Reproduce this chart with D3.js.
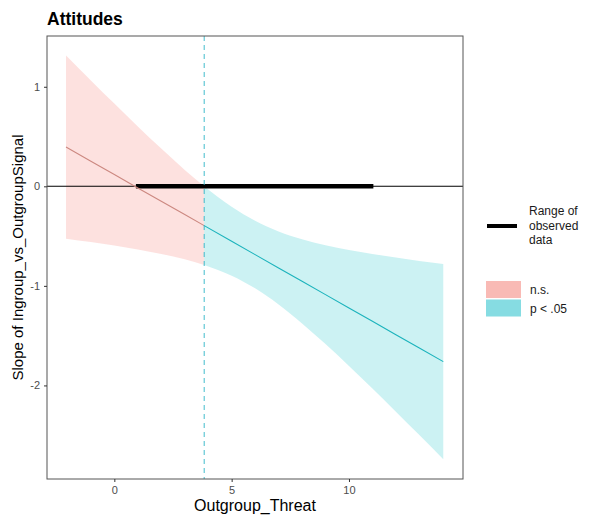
<!DOCTYPE html>
<html>
<head>
<meta charset="utf-8">
<script src="https://d3js.org/d3.v7.min.js"></script>
<style>
  html, body { margin: 0; padding: 0; background: #fff; }
  svg { display: block; font-family: "Liberation Sans", Arial, sans-serif; }
</style>
</head>
<body>
<svg id="chart" width="589" height="515"></svg>
<script>
// Johnson-Neyman plot: conditional slope of Ingroup_vs_OutgroupSignal across Outgroup_Threat
const moderator = [-2.06, -1, 0, 1, 2, 3, 3.83, 5, 6, 7, 8, 9, 10, 11, 12, 13, 14.02];
const slopeEst  = [0.394, 0.252, 0.118, -0.016, -0.150, -0.284, -0.395, -0.552, -0.686, -0.820, -0.954, -1.088, -1.222, -1.356, -1.490, -1.624, -1.761];
const ciUpper   = [1.314, 1.064, 0.831, 0.602, 0.379, 0.165, 0.0, -0.206, -0.347, -0.453, -0.531, -0.591, -0.639, -0.680, -0.716, -0.749, -0.781];
const ciLower   = [-0.526, -0.560, -0.595, -0.634, -0.679, -0.733, -0.790, -0.898, -1.025, -1.187, -1.377, -1.585, -1.805, -2.032, -2.264, -2.499, -2.741];
const jnPoint = 3.83;
const observedRange = [0.92, 11.04];
const xTicks = [0, 5, 10];
const yTicks = [1, 0, -1, -2];
const legendSig = ["n.s.", "p < .05"];

const svg = d3.select("#chart");
const panel = { left: 47, right: 463, top: 36, bottom: 479 };

const x = d3.scaleLinear().domain([-2.87, 14.86]).range([panel.left, panel.right]);
const y = d3.scaleLinear().domain([-2.94, 1.51]).range([panel.bottom, panel.top]);

const rows = moderator.map((m, i) => ({ m, est: slopeEst[i], lo: ciLower[i], hi: ciUpper[i] }));
const nsRows = rows.filter(d => d.m <= jnPoint);
const sigRows = rows.filter(d => d.m >= jnPoint);

const pink = "#F8766D", teal = "#00BFC4";

const g = svg.append("g");

// clip to panel
svg.append("defs").append("clipPath").attr("id", "panelClip")
  .append("rect").attr("x", panel.left).attr("y", panel.top)
  .attr("width", panel.right - panel.left).attr("height", panel.bottom - panel.top);

const plot = g.append("g").attr("clip-path", "url(#panelClip)");

const area = d3.area().x(d => x(d.m)).y0(d => y(d.lo)).y1(d => y(d.hi)).curve(d3.curveMonotoneX);
const line = d3.line().x(d => x(d.m)).y(d => y(d.est));

plot.append("path").datum(nsRows).attr("d", area).attr("fill", pink).attr("fill-opacity", 0.22);
plot.append("path").datum(sigRows).attr("d", area).attr("fill", teal).attr("fill-opacity", 0.2);

// zero reference line
plot.append("line").attr("x1", panel.left).attr("x2", panel.right)
  .attr("y1", y(0)).attr("y2", y(0)).attr("stroke", "#000").attr("stroke-width", 1.1);

// range of observed data
plot.append("line").attr("x1", x(observedRange[0])).attr("x2", x(observedRange[1]))
  .attr("y1", y(0)).attr("y2", y(0)).attr("stroke", "#000").attr("stroke-width", 4.5);

plot.append("path").datum(nsRows).attr("d", line).attr("fill", "none")
  .attr("stroke", "#CC8880").attr("stroke-width", 1.1);
plot.append("path").datum(sigRows).attr("d", line).attr("fill", "none")
  .attr("stroke", "#1BB3BC").attr("stroke-width", 1.1);

// Johnson-Neyman boundary
plot.append("line").attr("x1", x(jnPoint)).attr("x2", x(jnPoint))
  .attr("y1", panel.top).attr("y2", panel.bottom)
  .attr("stroke", "#2DB5C6").attr("stroke-width", 0.9).attr("stroke-dasharray", "5,4");

// panel border
g.append("rect").attr("x", panel.left).attr("y", panel.top)
  .attr("width", panel.right - panel.left).attr("height", panel.bottom - panel.top)
  .attr("fill", "none").attr("stroke", "#555").attr("stroke-width", 1);

// axes
const xAxis = g.append("g").attr("transform", `translate(0,${panel.bottom})`)
  .call(d3.axisBottom(x).tickValues(xTicks).tickSize(3).tickPadding(4));
const yAxis = g.append("g").attr("transform", `translate(${panel.left},0)`)
  .call(d3.axisLeft(y).tickValues(yTicks).tickSize(3).tickPadding(4).tickFormat(d3.format("d")));
[xAxis, yAxis].forEach(a => {
  a.select(".domain").remove();
  a.selectAll(".tick line").attr("stroke", "#333");
  a.selectAll(".tick text").attr("fill", "#4D4D4D").style("font-size", "11px")
    .style("font-family", "'Liberation Sans', Arial, sans-serif");
});
yAxis.selectAll(".tick text").text(d => d < 0 ? "-" + Math.abs(d) : d);

// titles
g.append("text").attr("x", 47).attr("y", 25).text("Attitudes")
  .style("font-size", "17.5px").style("font-weight", "bold").attr("fill", "#000");
g.append("text").attr("x", (panel.left + panel.right) / 2).attr("y", 511)
  .attr("text-anchor", "middle").text("Outgroup_Threat")
  .style("font-size", "16px").attr("fill", "#000");
g.append("text").attr("transform", `translate(23,${(panel.top + panel.bottom) / 2}) rotate(-90)`)
  .attr("text-anchor", "middle").text("Slope of Ingroup_vs_OutgroupSignal")
  .style("font-size", "15px").attr("fill", "#000");

// legend: observed range
const leg = g.append("g");
leg.append("line").attr("x1", 487).attr("x2", 517).attr("y1", 226).attr("y2", 226)
  .attr("stroke", "#000").attr("stroke-width", 4);
["Range of", "observed", "data"].forEach((t, i) => {
  leg.append("text").attr("x", 529).attr("y", 215 + i * 14.5).text(t)
    .style("font-size", "12px").attr("fill", "#1a1a1a");
});

// legend: significance
const keyColors = ["#F9BAB5", "#86DCE2"];
legendSig.forEach((t, i) => {
  leg.append("rect").attr("x", 486).attr("y", 281 + i * 18.5).attr("width", 35).attr("height", 17)
    .attr("fill", keyColors[i]);
  leg.append("text").attr("x", 530).attr("y", 294 + i * 18.5).text(t)
    .style("font-size", "12px").attr("fill", "#1a1a1a");
});
</script>
</body>
</html>
